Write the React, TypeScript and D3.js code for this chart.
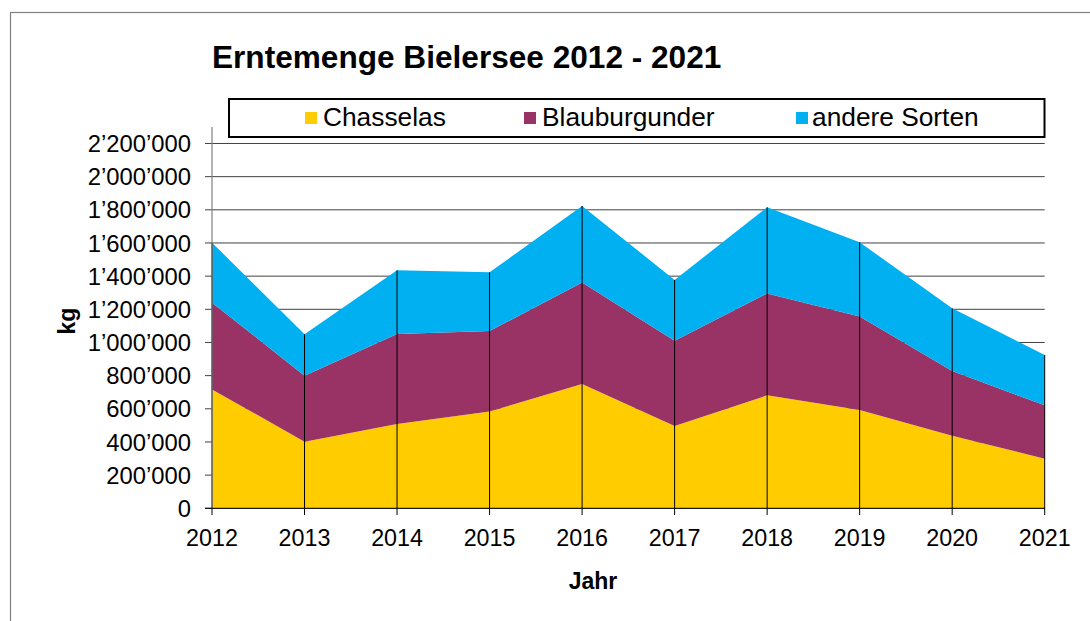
import React from 'react';
import * as d3 from 'd3';

const years = [2012, 2013, 2014, 2015, 2016, 2017, 2018, 2019, 2020, 2021];
const chasselas = [717000, 402000, 508000, 583000, 750000, 497000, 681000, 593000, 438000, 299000];
const blauburgunder = [523000, 398000, 543000, 486000, 611000, 514000, 615000, 563000, 390000, 322000];
const andere = [362000, 249000, 384000, 354000, 462000, 366000, 519000, 448000, 378000, 304000];
const seriesNames = ['Chasselas', 'Blauburgunder', 'andere Sorten'];
const seriesColors = ['#FFCC00', '#993366', '#00B0F0'];
const yTicks = d3.range(0, 2200001, 200000);

const FONT = "Arial, 'Liberation Sans', sans-serif";

const App: React.FC = () => {
  const width = 1090;
  const height = 621;

  const x = d3.scaleLinear().domain([2012, 2021]).range([212, 1044.7]);
  const y = d3.scaleLinear().domain([0, 2300000]).range([508.3, 126.9]);

  // table for the stack layout
  const rows = years.map((yr, i) => ({
    year: yr,
    Chasselas: chasselas[i],
    Blauburgunder: blauburgunder[i],
    'andere Sorten': andere[i],
  }));

  const stacked = d3.stack<any>().keys(seriesNames)(rows);

  const area = d3.area<any>()
    .x((d) => x(d.data.year))
    .y0((d) => y(d[0]))
    .y1((d) => y(d[1]));

  const fmt = (v: number) => d3.format(',')(v).replace(/,/g, '\u2019');
  const top = stacked[stacked.length - 1];

  // legend placement
  const legendItems = [
    { sq: 305, tx: 323 },
    { sq: 524, tx: 542 },
    { sq: 796, tx: 812 },
  ];

  return (
    <svg
      width={width}
      height={height}
      style={{ position: 'absolute', left: 0, top: 0, background: '#fff' }}
      fontFamily={FONT}
    >
      <rect x={10.5} y={12.5} width={1200} height={700} fill="#fff" stroke="#808080" strokeWidth={1.2} />

      <text x={212} y={68} fontSize={31.6} fontWeight="bold" fill="#000">
        Erntemenge Bielersee 2012 - 2021
      </text>

      {/* gridlines */}
      {yTicks.map((t) => (
        <line key={t} x1={205} x2={1044.7} y1={y(t)} y2={y(t)} stroke="#404040" strokeWidth={1} />
      ))}

      {/* stacked areas */}
      {stacked.map((s, i) => (
        <path key={s.key} d={area(s) || ''} fill={seriesColors[i]} stroke="none" />
      ))}

      {/* drop lines */}
      {top.map((d: any) => (
        <line
          key={d.data.year}
          x1={x(d.data.year)}
          x2={x(d.data.year)}
          y1={y(d[1])}
          y2={515}
          stroke="#000"
          strokeWidth={1}
        />
      ))}

      {/* axes */}
      <line x1={212} x2={212} y1={y(2300000)} y2={y(0)} stroke="#808080" strokeWidth={1.2} />
      <line x1={205} x2={1044.7} y1={y(0)} y2={y(0)} stroke="#000" strokeWidth={1} />

      {yTicks.map((t) => (
        <text key={t} x={191} y={y(t)} dy="0.36em" textAnchor="end" fontSize={23.8} fill="#000">
          {fmt(t)}
        </text>
      ))}

      {years.map((yr) => (
        <text key={yr} x={x(yr)} y={546} textAnchor="middle" fontSize={23.3} fill="#000">
          {yr}
        </text>
      ))}

      <text x={593} y={589} textAnchor="middle" fontSize={23} fontWeight="bold" fill="#000">
        Jahr
      </text>
      <text
        transform="translate(67,321) rotate(-90)"
        textAnchor="middle"
        dy="0.35em"
        fontSize={23}
        fontWeight="bold"
        fill="#000"
      >
        kg
      </text>

      {/* legend */}
      <rect x={229} y={99} width={815.5} height={38} fill="#fff" stroke="#000" strokeWidth={2} />
      {seriesNames.map((n, i) => (
        <g key={n}>
          <rect x={legendItems[i].sq} y={112} width={12} height={12} fill={seriesColors[i]} />
          <text x={legendItems[i].tx} y={126} fontSize={26.3} fill="#000">
            {n}
          </text>
        </g>
      ))}
    </svg>
  );
};

export default App;
